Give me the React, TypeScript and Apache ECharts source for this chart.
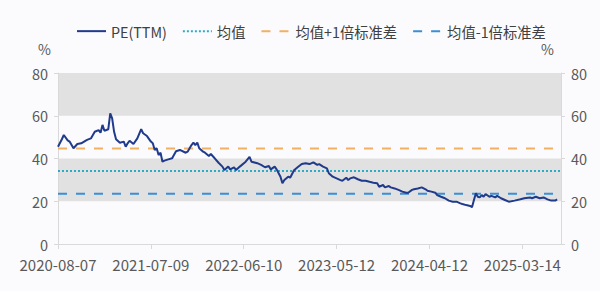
import React, { useEffect, useRef } from "react";
import * as echarts from "echarts";

// Week index from 2020-08-07 (weekly data)
const weeks: number[] = [
  0, 2, 3, 5, 6, 8, 10, 12, 15, 17, 19, 21, 22, 23, 24, 26, 27, 28, 29, 30,
  32, 34, 35, 36, 37, 39, 41, 43, 44, 46, 48, 49, 50, 51, 52, 53, 54, 55, 57, 59,
  61, 63, 66, 67, 69, 70, 71, 72, 73, 75, 76, 78, 79, 81, 83, 85, 86, 88, 89, 91,
  92, 94, 97, 99, 100, 103, 105, 107, 109, 110, 112, 113, 115, 116, 117, 119, 120, 122, 124, 126,
  128, 130, 132, 134, 135, 137, 139, 140, 142, 144, 146, 147, 149, 150, 151, 153, 155, 157, 159, 161,
  163, 165, 166, 168, 169, 171, 172, 174, 176, 178, 180, 181, 183, 184, 186, 188, 190, 191, 193, 195,
  196, 198, 200, 202, 204, 206, 208, 209, 211, 213, 214, 215, 216, 217, 218, 219, 220, 221, 223, 224,
  226, 227, 229, 231, 233, 236, 239, 241, 244, 245, 247, 249, 251, 253, 255, 257, 258,
];
const peValues: number[] = [
  45.5, 49.0, 51.0, 48.5, 47.9, 44.8, 46.8, 47.1, 48.7, 49.4, 52.5, 53.3, 52.1, 55.7, 53.0, 53.7, 61.1, 58.8, 52.5, 49.0,
  47.4, 47.9, 45.5, 47.1, 48.3, 46.8, 49.4, 53.7, 51.8, 50.5, 47.9, 47.1, 44.0, 44.8, 41.6, 42.7, 38.5, 39.0, 39.6, 40.1,
  43.4, 44.0, 42.7, 43.2, 46.3, 47.4, 46.3, 47.4, 44.8, 43.2, 42.7, 41.2, 42.1, 40.1, 38.0, 36.2, 34.6, 36.2, 34.9, 35.9,
  34.6, 36.2, 38.5, 40.8, 38.5, 37.8, 37.0, 35.9, 36.5, 34.9, 36.2, 34.9, 31.5, 28.4, 29.9, 31.5, 31.0, 34.5, 36.0, 37.4,
  37.8, 37.4, 38.2, 37.0, 37.4, 36.2, 35.4, 33.1, 31.5, 30.7, 29.9, 29.6, 31.0, 29.9, 30.7, 31.2, 30.3, 29.6, 29.6, 29.1,
  28.7, 28.4, 26.8, 27.6, 26.5, 27.1, 26.5, 26.0, 25.3, 24.5, 24.0, 24.0, 25.3, 25.6, 26.0, 26.5, 25.6, 24.9, 24.5, 24.0,
  22.9, 22.1, 21.4, 20.3, 19.8, 19.8, 19.0, 18.7, 18.2, 17.8, 17.2, 20.6, 23.7, 22.1, 21.8, 22.9, 22.1, 23.4, 22.1, 22.5,
  21.8, 22.5, 21.4, 20.6, 19.8, 20.3, 20.9, 21.4, 21.8, 21.4, 22.1, 21.4, 21.8, 20.9, 20.3, 20.3, 20.9,
];
const meanValue = 34.1;
const upperValue = 44.7;
const lowerValue = 23.5;
const xTickLabels: string[] = ["2020-08-07", "2021-07-09", "2022-06-10", "2023-05-12", "2024-04-12", "2025-03-14"];
const xStart = 0;
const xEnd = 260;
const xStep = 48;

const FONT = "'Noto Sans CJK SC', 'Noto Sans', sans-serif";

export default function App() {
  const ref = useRef<HTMLDivElement>(null);
  useEffect(() => {
    if (!ref.current) return;
    const chart = echarts.init(ref.current, undefined, { renderer: "svg" });
    const peData = weeks.map((w, i) => [w, peValues[i]]);
    const flat = (v: number) => [
      [xStart, v],
      [xEnd, v],
    ];
    const yAxisBase = {
      type: "value",
      min: 0,
      max: 80,
      interval: 20,
      name: "%",
      nameLocation: "end",
      nameGap: 17,
      nameTextStyle: { color: "#595959", fontSize: 14, fontFamily: FONT, align: "right", padding: [0, 7, 0, 0] },
      axisLine: { show: true, lineStyle: { color: "#d9d9d9", width: 1 } },
      axisTick: { show: true, length: 4, lineStyle: { color: "#d9d9d9" } },
      axisLabel: { color: "#595959", fontSize: 14.5, fontFamily: FONT, margin: 10 },
      splitLine: { show: false },
    };
    chart.setOption({
      animation: false,
      backgroundColor: "#fbfbfd",
      textStyle: { fontFamily: FONT },
      legend: {
        top: 19,
        left: 71,
        itemWidth: 29,
        itemHeight: 12,
        itemGap: 15,
        itemStyle: { opacity: 0 },
        textStyle: { color: "#404040", fontSize: 14.3, fontFamily: FONT },
        data: ["PE(TTM)", "均值", "均值+1倍标准差", "均值-1倍标准差"],
      },
      grid: { left: 58, right: 39, top: 73, bottom: 47 },
      xAxis: {
        type: "value",
        min: xStart,
        max: xEnd,
        interval: xStep,
        axisLine: { show: true, lineStyle: { color: "#d9d9d9" } },
        axisTick: { show: true, length: 5, lineStyle: { color: "#d9d9d9" } },
        axisLabel: {
          color: "#595959",
          fontSize: 15,
          fontFamily: FONT,
          margin: 13,
          showMaxLabel: false,
          formatter: (v: number) => {
            const k = Math.round((v - xStart) / xStep);
            return Math.abs(v - xStart - k * xStep) < 1e-6 && k < xTickLabels.length ? xTickLabels[k] : "";
          },
        },
        splitLine: { show: false },
      },
      yAxis: [
        {
          ...yAxisBase,
          position: "left",
          splitArea: { show: true, areaStyle: { color: ["rgba(255,255,255,0)", "#e1e1e1"] } },
        },
        { ...yAxisBase, position: "right", splitArea: { show: false } },
      ],
      series: [
        {
          name: "PE(TTM)",
          type: "line",
          data: peData,
          showSymbol: false,
          symbol: "none",
          lineStyle: { color: "#203a8c", width: 2 },
          itemStyle: { color: "#203a8c" },
          z: 5,
        },
        {
          name: "均值",
          type: "line",
          data: flat(meanValue),
          showSymbol: false,
          symbol: "none",
          lineStyle: { color: "#2aabc6", width: 2, type: [2, 2] },
          itemStyle: { color: "#2aabc6" },
        },
        {
          name: "均值+1倍标准差",
          type: "line",
          data: flat(upperValue),
          showSymbol: false,
          symbol: "none",
          lineStyle: { color: "#f2b063", width: 2, type: [9, 9] },
          itemStyle: { color: "#f2b063" },
        },
        {
          name: "均值-1倍标准差",
          type: "line",
          data: flat(lowerValue),
          showSymbol: false,
          symbol: "none",
          lineStyle: { color: "#3a8fd6", width: 2, type: [9, 9] },
          itemStyle: { color: "#3a8fd6" },
        },
      ],
    });
    return () => chart.dispose();
  }, []);
  return (
    <div
      ref={ref}
      style={{ position: "fixed", left: 0, top: 0, width: 600, height: 291 }}
    />
  );
}
